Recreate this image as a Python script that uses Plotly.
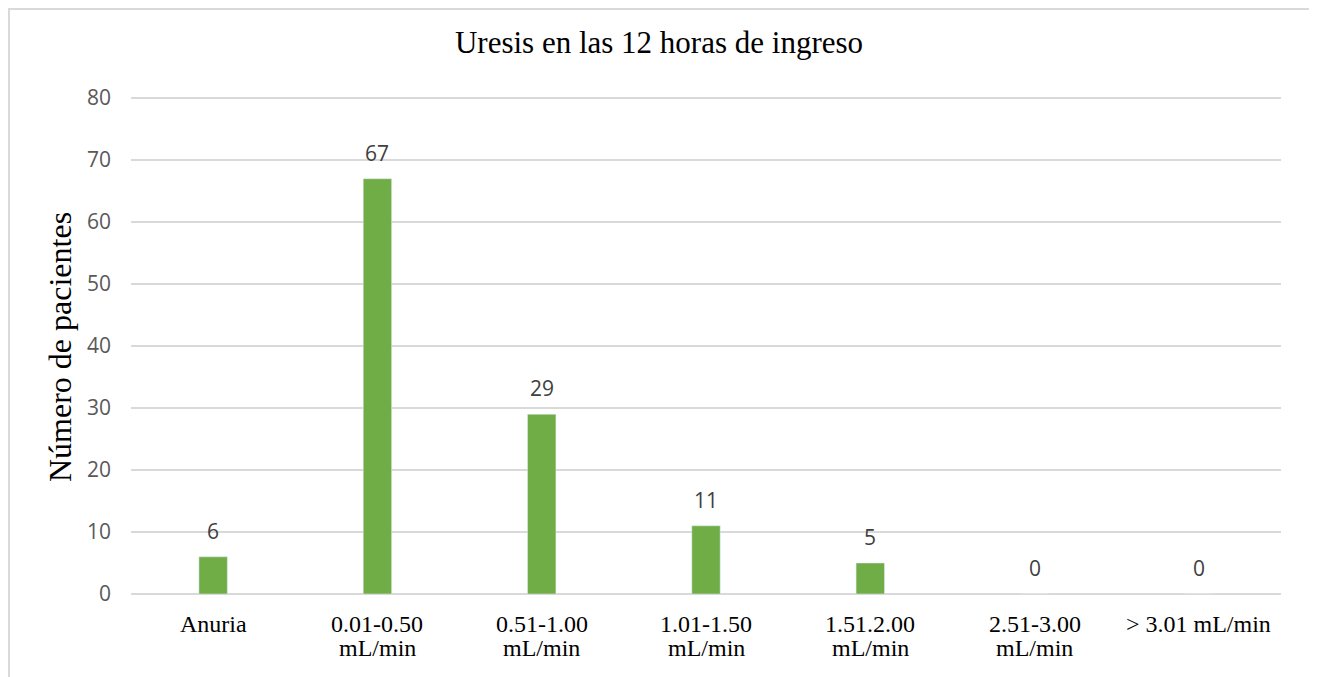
import plotly.graph_objects as go

categories = ["Anuria", "0.01-0.50 mL/min", "0.51-1.00 mL/min", "1.01-1.50 mL/min",
              "1.51.2.00 mL/min", "2.51-3.00 mL/min", "> 3.01 mL/min"]
label_line1 = ["Anuria", "0.01-0.50", "0.51-1.00", "1.01-1.50", "1.51.2.00", "2.51-3.00", "> 3.01 mL/min"]
label_line2 = ["", "mL/min", "mL/min", "mL/min", "mL/min", "mL/min", ""]
values = [6, 67, 29, 11, 5, 0, 0]
y_ticks = [0, 10, 20, 30, 40, 50, 60, 70, 80]

# page has an 8px body margin; figure coordinates = page - 8
W, H = 1309, 669
ml, mr, mt, mb = 123, 36, 87, 83
pw, ph = W - ml - mr, H - mt - mb
OFF = 8

SERIF = "Liberation Serif, Times New Roman, serif"
SANS = "Open Sans, Liberation Sans, sans-serif"


def px_x(page_x):
    return (page_x - OFF - ml) / pw


def px_y(page_y):
    return (H - mb - (page_y - OFF)) / ph


fig = go.Figure()
fig.add_trace(go.Bar(x=categories, y=values, marker_color="#70ad47", width=0.173,
                     hoverinfo="skip"))

# data labels
for c, v in zip(categories, values):
    fig.add_annotation(x=c, y=v, text=str(v), showarrow=False, yanchor="middle",
                       yshift=26, font=dict(family=SANS, size=21, color="#404040"))

# category labels (two lines, tighter line spacing than plotly's <br>)
for c, l1, l2 in zip(categories, label_line1, label_line2):
    fig.add_annotation(x=c, xref="x", y=px_y(624), yref="paper", text=l1, showarrow=False,
                       yanchor="middle", font=dict(family=SERIF, size=24, color="#000000"))
    if l2:
        fig.add_annotation(x=c, xref="x", y=px_y(648), yref="paper", text=l2, showarrow=False,
                           yanchor="middle", font=dict(family=SERIF, size=24, color="#000000"))

# y axis title
fig.add_annotation(x=px_x(60), xref="paper", y=px_y(347), yref="paper",
                   text="Número de pacientes", textangle=-90, showarrow=False,
                   xanchor="center", yanchor="middle",
                   font=dict(family=SERIF, size=32, color="#000000"))

# chart border
fig.add_shape(type="rect", xref="paper", yref="paper",
              x0=px_x(9), x1=px_x(1310), y0=px_y(720), y1=px_y(9),
              line=dict(color="#d9d9d9", width=2), layer="below")

fig.update_layout(
    width=W, height=H,
    margin=dict(l=ml, r=mr, t=mt, b=mb),
    paper_bgcolor="white", plot_bgcolor="white",
    showlegend=False,
    title=dict(text="Uresis en las 12 horas de ingreso", x=(659 - OFF) / W, xanchor="center",
               xref="container", yref="container",
               y=1 - (42 - OFF) / H, yanchor="middle",
               font=dict(family=SERIF, size=31, color="#000000")),
    xaxis=dict(type="category", showgrid=False, showline=False, zeroline=False, ticks="",
               showticklabels=False),
    yaxis=dict(range=[0, 80.5], tickvals=y_ticks, showgrid=True, gridcolor="#d9d9d9", gridwidth=1.5,
               zeroline=True, zerolinecolor="#d9d9d9", zerolinewidth=1.5, showline=False, ticks="",
               tickfont=dict(family=SANS, size=21, color="#595959"),
               ticklabelstandoff=19),
)

fig.write_html("out.html")
